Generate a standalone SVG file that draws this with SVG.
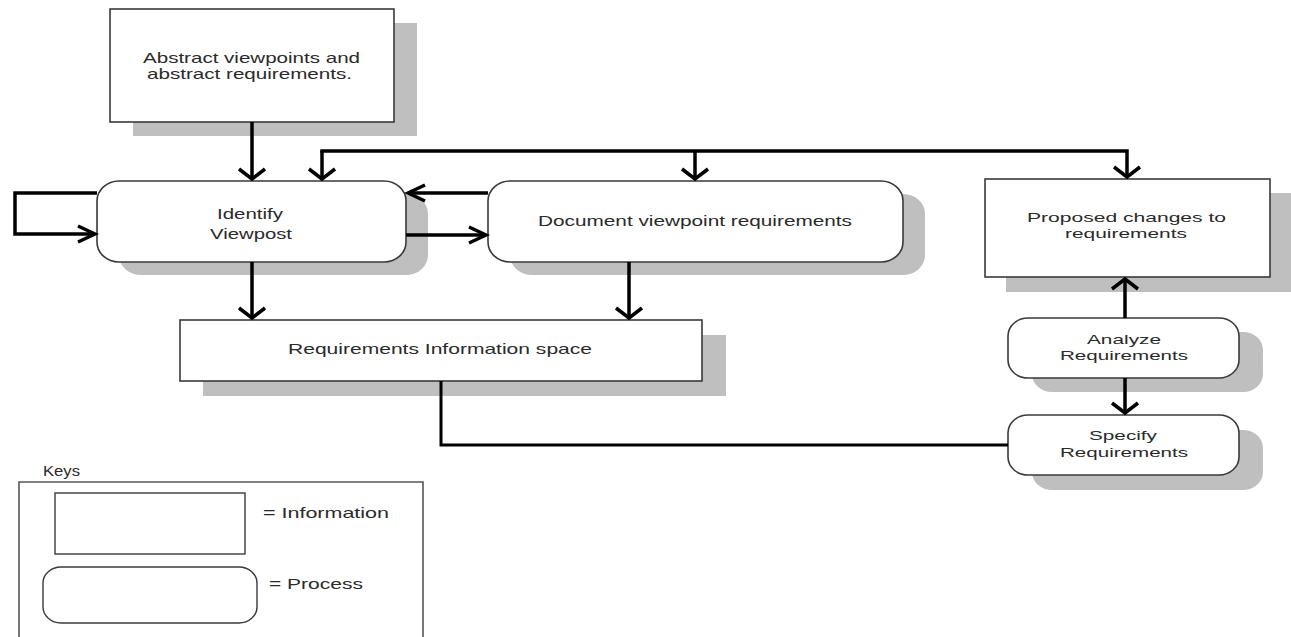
<svg xmlns="http://www.w3.org/2000/svg" width="1291" height="637" viewBox="0 0 1291 637">
<style>
.bg{fill:#ffffff}
.sh{fill:#bfbfbf;stroke:none}
.box{fill:#ffffff;stroke:#3a3a3a;stroke-width:1.6}
.key{fill:#ffffff;stroke:#3a3a3a;stroke-width:1.4}
.frame{fill:none;stroke:#555555;stroke-width:1.6}
.t{font-family:"Liberation Sans",Arial,sans-serif;font-size:15px;fill:#2a2a2a}
.s{font-size:13.5px}
.c{fill:none;stroke:#000000;stroke-width:3.5;stroke-linejoin:miter}
</style>
<defs>
<marker id="ah" markerUnits="userSpaceOnUse" markerWidth="24" markerHeight="24" viewBox="-20 -12 24 24" refX="0" refY="0" orient="auto">
<path d="M-17,-8 L0,0 L-17,8" fill="none" stroke="#000" stroke-width="3.5"/>
</marker>
<marker id="av" markerUnits="userSpaceOnUse" markerWidth="30" markerHeight="30" viewBox="-15 -15 30 30" refX="0" refY="0" orient="auto">
<path d="M-10,-13 L0,0 L-10,13" fill="none" stroke="#000" stroke-width="3.5"/>
</marker>
</defs>
<rect class="bg" x="0" y="0" width="1291" height="637"/>

<g id="abstract">
<rect class="sh" x="133" y="23" width="284" height="113"/>
<rect class="box" x="110" y="9" width="284" height="113"/>
<text class="t" x="143" y="63" textLength="217" lengthAdjust="spacingAndGlyphs">Abstract viewpoints and</text>
<text class="t" x="147" y="79" textLength="205" lengthAdjust="spacingAndGlyphs">abstract requirements.</text>
</g>

<g id="identify">
<rect class="sh" x="119" y="194" width="309" height="81" rx="22" ry="20"/>
<rect class="box" x="97" y="181" width="309" height="81" rx="22" ry="20"/>
<text class="t" x="217" y="219" textLength="66" lengthAdjust="spacingAndGlyphs">Identify</text>
<text class="t" x="210" y="239" textLength="82" lengthAdjust="spacingAndGlyphs">Viewpost</text>
</g>

<g id="document">
<rect class="sh" x="510" y="194" width="415" height="81" rx="22" ry="20"/>
<rect class="box" x="488" y="181" width="415" height="81" rx="22" ry="20"/>
<text class="t" x="538" y="226" textLength="314" lengthAdjust="spacingAndGlyphs">Document viewpoint requirements</text>
</g>

<g id="proposed">
<rect class="sh" x="1006" y="193" width="285" height="99"/>
<rect class="box" x="985" y="179" width="285" height="98"/>
<text class="t s" x="1027" y="222" textLength="199" lengthAdjust="spacingAndGlyphs">Proposed changes to</text>
<text class="t s" x="1065" y="238" textLength="122" lengthAdjust="spacingAndGlyphs">requirements</text>
</g>

<g id="ris">
<rect class="sh" x="203" y="335" width="523" height="61"/>
<rect class="box" x="180" y="320" width="522" height="61"/>
<text class="t" x="288" y="354" textLength="304" lengthAdjust="spacingAndGlyphs">Requirements Information space</text>
</g>

<g id="analyze">
<rect class="sh" x="1032" y="332" width="231" height="60" rx="20" ry="18"/>
<rect class="box" x="1008" y="318" width="231" height="60" rx="20" ry="18"/>
<text class="t s" x="1087" y="344" textLength="74" lengthAdjust="spacingAndGlyphs">Analyze</text>
<text class="t s" x="1060" y="360" textLength="128" lengthAdjust="spacingAndGlyphs">Requirements</text>
</g>

<g id="specify">
<rect class="sh" x="1032" y="430" width="231" height="60" rx="20" ry="18"/>
<rect class="box" x="1008" y="415" width="231" height="60" rx="20" ry="18"/>
<text class="t s" x="1089" y="440" textLength="68" lengthAdjust="spacingAndGlyphs">Specify</text>
<text class="t s" x="1060" y="457" textLength="128" lengthAdjust="spacingAndGlyphs">Requirements</text>
</g>

<g id="keys">
<text class="t" x="43" y="476" textLength="37" lengthAdjust="spacingAndGlyphs">Keys</text>
<path class="frame" d="M19,637 V482 H423 V637"/>
<rect class="key" x="55" y="493" width="190" height="61"/>
<text class="t" x="263" y="518" textLength="126" lengthAdjust="spacingAndGlyphs">=  Information</text>
<rect class="key" x="43" y="567" width="214" height="56" rx="18" ry="16"/>
<text class="t" x="269" y="589" textLength="94" lengthAdjust="spacingAndGlyphs">= Process</text>
</g>

<g id="connectors">
<path class="c" d="M252,122 V179" marker-end="url(#av)"/>
<path class="c" d="M320.25,151 H1127 V177" marker-end="url(#av)"/>
<path class="c" d="M322,151 V179" marker-end="url(#av)"/>
<path class="c" d="M695,151 V179" marker-end="url(#av)"/>
<path class="c" d="M488,193 H408" marker-end="url(#ah)"/>
<path class="c" d="M406,235 H486" marker-end="url(#ah)"/>
<path class="c" d="M97,193 H15 V234 H95" marker-end="url(#ah)"/>
<path class="c" d="M252,262 V318" marker-end="url(#av)"/>
<path class="c" d="M629,262 V318" marker-end="url(#av)"/>
<path class="c" style="stroke-width:3" d="M441,381 V445 H1008"/>
<path class="c" d="M1125,318 V279" marker-end="url(#av)"/>
<path class="c" d="M1125,378 V413" marker-end="url(#av)"/>
</g>
</svg>
